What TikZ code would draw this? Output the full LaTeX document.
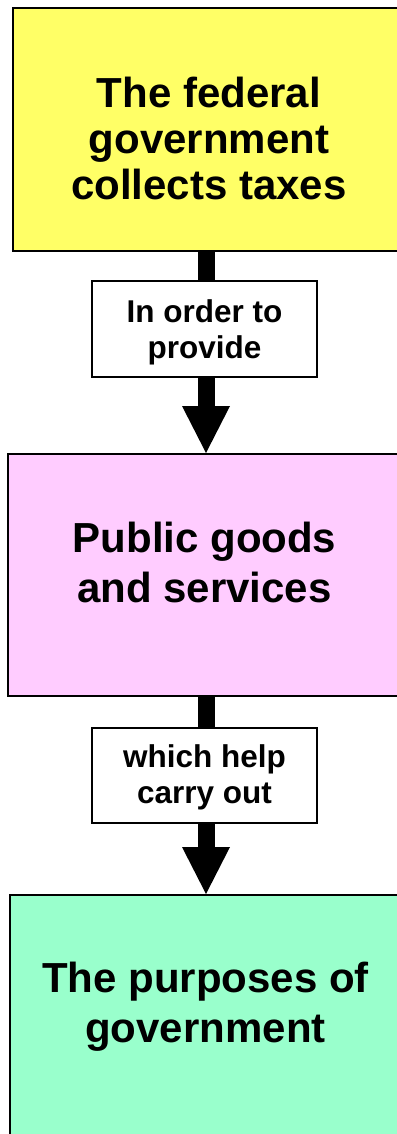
\documentclass[tikz,border=0pt]{standalone}
\usepackage{fontspec}
\setmainfont{Liberation Sans}
\usetikzlibrary{arrows.meta}
\definecolor{boxyellow}{HTML}{FFFF66}
\definecolor{boxpink}{HTML}{FFCCFF}
\definecolor{boxgreen}{HTML}{99FFCC}
\tikzset{
  bigbox/.style={draw=black, line width=2pt, rectangle, inner sep=0pt, anchor=north west},
  bigtext/.style={anchor=base, inner sep=0pt, font=\fontsize{42}{46}\selectfont\bfseries},
  labelbox/.style={draw=black, line width=1.6pt, fill=white, rectangle, inner sep=0pt, minimum width=225pt},
  labeltext/.style={anchor=base, inner sep=0pt, font=\fontsize{31.5}{36}\selectfont\bfseries},
  flowarrow/.style={line width=17pt, -{Triangle[width=48pt,length=47pt,line width=0pt]}}
}
\begin{document}
\begin{tikzpicture}[x=1pt,y=-1pt]
\useasboundingbox (0,0) rectangle (396,1134);
% big boxes
\node[bigbox, fill=boxyellow, minimum width=410pt, minimum height=243pt] (b1) at (12,7) {};
\node[bigbox, fill=boxpink, minimum width=415pt, minimum height=242pt] (b2) at (7,453) {};
\node[bigbox, fill=boxgreen, minimum width=413pt, minimum height=260pt] (b3) at (9,894) {};
% box texts
\node[bigtext] (t1a) at (209,108) {The federal};
\node[bigtext] (t1b) at (209,154) {government};
\node[bigtext] (t1c) at (209,200) {collects taxes};
\node[bigtext] (t2a) at (204.5,552) {Public goods};
\node[bigtext] (t2b) at (204.5,602) {and services};
\node[bigtext] (t3a) at (205.5,992) {The purposes of};
\node[bigtext] (t3b) at (205.5,1042) {government};
% arrows
\coordinate (ax) at (206,0);
\draw[flowarrow] (b1.south -| ax) -- (b2.north -| ax);
\draw[flowarrow] (b2.south -| ax) -- (b3.north -| ax);
% labels
\node[labelbox, minimum height=96pt] (l1) at (204.5,329) {};
\node[labeltext] (l1a) at (204.5,322) {In order to};
\node[labeltext] (l1b) at (204.5,358) {provide};
\node[labelbox, minimum height=95pt] (l2) at (204.5,775.5) {};
\node[labeltext] (l2a) at (204.5,767) {which help};
\node[labeltext] (l2b) at (204.5,803) {carry out};
\end{tikzpicture}
\end{document}
